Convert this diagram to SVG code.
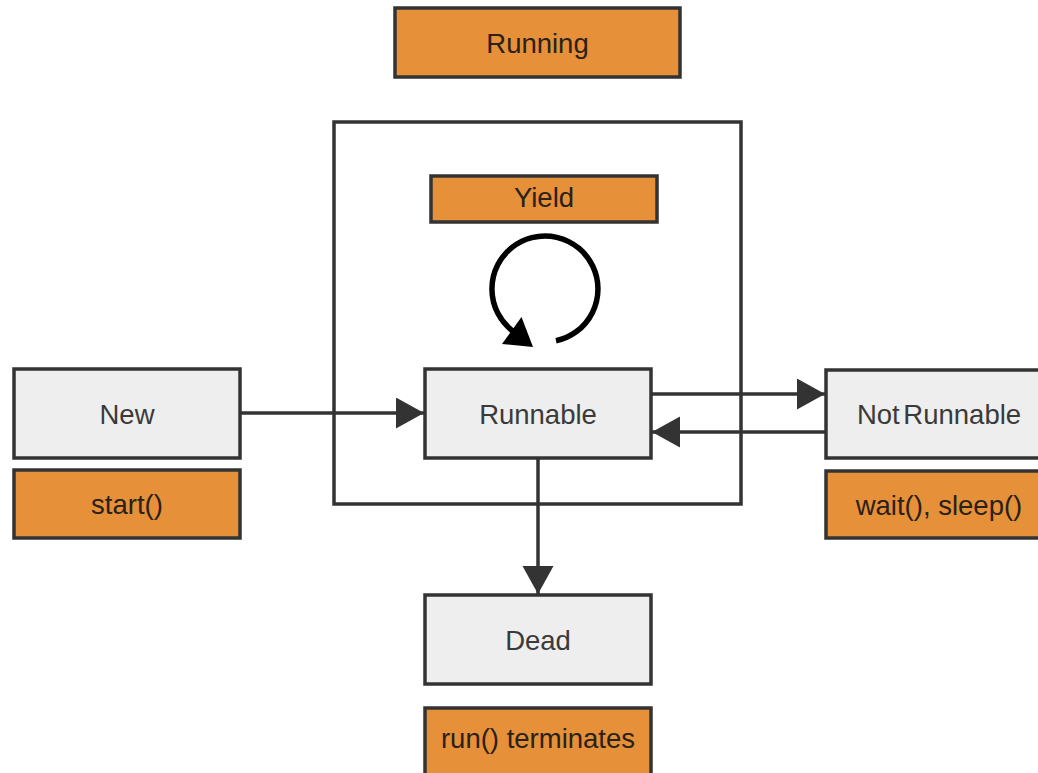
<svg xmlns="http://www.w3.org/2000/svg" width="1038" height="773" viewBox="0 0 1038 773">
  <style>
    .state { fill: #eeeeee; stroke: #333333; stroke-width: 3.5; }
    .note { fill: #e6903a; stroke: #333333; stroke-width: 3.5; }
    .frame { fill: none; stroke: #333333; stroke-width: 3.5; }
    .label { font-family: "Liberation Sans", Arial, sans-serif; font-size: 27.5px; fill: #3a3a3a; text-anchor: middle; }
    .note-label { fill: #2a2118; }
    .edge { fill: none; stroke: #333333; stroke-width: 3.5; marker-end: url(#head); }
  </style>
  <defs>
    <marker id="head" markerUnits="userSpaceOnUse" markerWidth="30" markerHeight="32" refX="28" refY="15.5" orient="auto">
      <path d="M0,0 L28,15.5 L0,31 Z" fill="#333333"/>
    </marker>
  </defs>
  <rect width="1038" height="773" fill="#ffffff"/>

  <g id="running">
    <rect class="note" x="395" y="8" width="285" height="69"/>
    <text class="label note-label" x="537.5" y="52.5">Running</text>
  </g>

  <g id="running-frame">
    <rect class="frame" x="334" y="122" width="407" height="382"/>
  </g>

  <g id="yield">
    <rect class="note" x="431" y="176" width="226" height="46"/>
    <text class="label note-label" x="544" y="207">Yield</text>
  </g>

  <g id="yield-loop">
    <path d="M556,340.8 A53,53 0 1 0 512.4,330.8" fill="none" stroke="#000000" stroke-width="5.5"/>
    <polygon points="502,344 521.5,317 533,347" fill="#000000"/>
  </g>

  <g id="new">
    <rect class="state" x="14" y="369" width="226" height="89"/>
    <text class="label" x="127" y="423.5">New</text>
  </g>
  <g id="start">
    <rect class="note" x="14" y="470" width="226" height="68"/>
    <text class="label note-label" x="127" y="514">start()</text>
  </g>

  <g id="runnable">
    <rect class="state" x="425" y="369" width="226" height="89"/>
    <text class="label" x="538" y="423.5">Runnable</text>
  </g>

  <g id="not-runnable">
    <rect class="state" x="826" y="370" width="226" height="88"/>
    <text class="label" x="939" y="423.5" word-spacing="-4">Not Runnable</text>
  </g>
  <g id="wait-sleep">
    <rect class="note" x="826" y="471" width="226" height="67"/>
    <text class="label note-label" x="939" y="514.5">wait(), sleep()</text>
  </g>

  <g id="dead">
    <rect class="state" x="425" y="595" width="226" height="89"/>
    <text class="label" x="538" y="649.5">Dead</text>
  </g>
  <g id="run-terminates">
    <rect class="note" x="425" y="708" width="226" height="80"/>
    <text class="label note-label" x="538" y="748">run() terminates</text>
  </g>

  <g id="connectors">
    <line class="edge" x1="240" y1="413" x2="424" y2="413"/>
    <line class="edge" x1="651" y1="394" x2="825" y2="394"/>
    <line class="edge" x1="826" y1="432" x2="652" y2="432"/>
    <line class="edge" x1="538" y1="458" x2="538" y2="594"/>
  </g>
</svg>
